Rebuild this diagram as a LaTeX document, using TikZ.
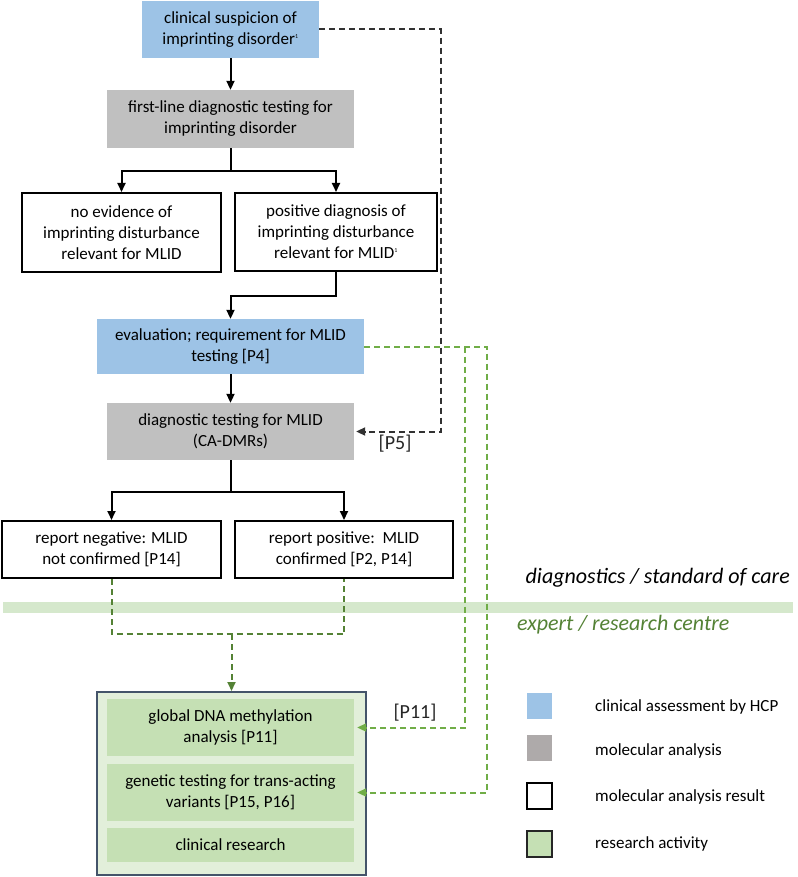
\documentclass[tikz,border=0pt]{standalone}
\usepackage{fontspec}
\setmainfont{Carlito}
\usetikzlibrary{arrows.meta}

\definecolor{hcpblue}{RGB}{157,195,230}
\definecolor{molgray}{RGB}{192,192,192}
\definecolor{leggray}{RGB}{174,170,170}
\definecolor{resgreen}{RGB}{197,224,180}
\definecolor{respale}{RGB}{226,239,218}
\definecolor{bandgreen}{RGB}{213,232,204}
\definecolor{linegreen}{RGB}{112,173,71}
\definecolor{darkgreen}{RGB}{84,130,53}
\definecolor{slateframe}{RGB}{68,84,106}
\definecolor{dashgray}{RGB}{50,50,50}

\tikzset{
  boxtext/.style={align=center, inner sep=0pt, font=\fontsize{17}{21}\selectfont},
  clinical/.style={boxtext, fill=hcpblue},
  molecular/.style={boxtext, fill=molgray},
  result/.style={boxtext, draw=black, line width=2pt, fill=white},
  activity/.style={boxtext, fill=resgreen},
  legendbox/.style={minimum width=25pt, minimum height=26pt, inner sep=0pt},
  legendtext/.style={anchor=west, inner sep=0pt, font=\fontsize{17}{21}\selectfont},
  setting/.style={inner sep=0pt, font=\fontsize{22}{26}\selectfont\itshape},
  reflabel/.style={inner sep=0pt, font=\fontsize{20}{24}\selectfont, text=black!85},
  tip/.style={-{Triangle[length=9pt,width=8pt]}},
  flow/.style={tip, line width=2pt},
  blackdash/.style={tip, line width=2pt, draw=dashgray, dash pattern=on 6pt off 4pt, shorten >=2pt},
  greendash/.style={tip, line width=2pt, draw=linegreen, dash pattern=on 6pt off 4pt, shorten >=3pt},
  darkdash/.style={line width=2pt, draw=darkgreen, dash pattern=on 6pt off 4pt}
}

\begin{document}
\begin{tikzpicture}[x=1pt,y=-1pt]
\useasboundingbox (0,0) rectangle (797,877);

% band between diagnostics and research
\fill[bandgreen] (3,602) rectangle (793,613);
\node[setting, anchor=east] (diagcare) at (790,578) {diagnostics / standard of care};
\node[setting, anchor=west, text=darkgreen] (expertcentre) at (517,625) {expert / research centre};

% diagnostic path
\node[clinical, minimum width=177pt, minimum height=57pt] (suspicion) at (230.5,29.5)
  {clinical suspicion of\\imprinting disorder\textsuperscript{\fontsize{6}{6}\selectfont 1}};
\node[molecular, minimum width=247pt, minimum height=58pt] (firstline) at (230.5,119)
  {first-line diagnostic testing for\\imprinting disorder};
\node[result, minimum width=199pt, minimum height=79pt] (noevidence) at (121.5,232.5)
  {no evidence of\\imprinting disturbance\\relevant for MLID};
\node[result, minimum width=202pt, minimum height=78pt] (positive) at (336,232)
  {positive diagnosis of\\imprinting disturbance\\relevant for MLID\textsuperscript{\fontsize{6}{6}\selectfont 1}};
\node[clinical, minimum width=267pt, minimum height=55pt] (evaluation) at (230.5,346.5)
  {evaluation; requirement for MLID\\testing [P4]};
\node[molecular, minimum width=247pt, minimum height=57pt] (mlidtest) at (230.5,431.5)
  {diagnostic testing for MLID\\(CA-DMRs)};
\node[result, minimum width=219pt, minimum height=57pt] (reportneg) at (111.5,549.5)
  {report negative: MLID\\not confirmed [P14]};
\node[result, minimum width=218pt, minimum height=57pt] (reportpos) at (344,549.5)
  {report positive:\ \ MLID\\confirmed [P2, P14]};

% research centre
\node[draw=slateframe, fill=respale, line width=2pt, minimum width=269pt, minimum height=183pt] (research) at (231.5,783.5) {};
\node[activity, minimum width=247pt, minimum height=57pt] (methylation) at (230.5,727.5)
  {global DNA methylation\\analysis [P11]};
\node[activity, minimum width=247pt, minimum height=57pt] (genetic) at (230.5,792.5)
  {genetic testing for trans-acting\\variants [P15, P16]};
\node[activity, minimum width=247pt, minimum height=34pt] (clinresearch) at (230.5,845)
  {clinical research};

% solid arrows
\coordinate (fork1) at (230.5,171);
\coordinate (fork2) at (336,296);
\coordinate (fork3) at (230.5,492);
\draw[flow] (suspicion.south) to (firstline.north);
\draw[flow] (firstline.south) to (fork1) -| (noevidence.north);
\draw[flow] (fork1) -| (positive.north);
\draw[flow] (positive.south) to (fork2) -| (evaluation.north);
\draw[flow] (evaluation.south) to (mlidtest.north);
\draw[flow] (mlidtest.south) to (fork3) -| (reportneg.north);
\draw[flow] (fork3) -| (reportpos.north);

% dashed arrows
\coordinate (railP5) at (441,29.5);
\draw[blackdash] (suspicion.east) to (railP5) |- (mlidtest.east);
\node[reflabel] (labelP5) at (395,444) {[P5]};

\coordinate (railP11) at (465,346.5);
\coordinate (railP15) at (487,346.5);
\draw[greendash] (evaluation.east) to (railP15) |- (genetic.east);
\draw[greendash] (railP11) |- (methylation.east);
\node[reflabel] (labelP11) at (415,713) {[P11]};

\coordinate (fork4) at (111.5,634);
\coordinate (fork5) at (231.5,634);
\draw[darkdash] (reportneg.south) to (fork4) -| (reportpos.south);
\draw[darkdash, tip] (fork5) to (research.north);

% legend
\node[legendbox, fill=hcpblue] (legclinical) at (539.5,706) {};
\node[legendbox, fill=leggray] (legmolecular) at (539.5,747.5) {};
\node[legendbox, draw=black, line width=2pt, fill=white] (legresult) at (539.5,796) {};
\node[legendbox, draw=black!85, line width=2pt, fill=resgreen] (legactivity) at (539.5,844) {};
\node[legendtext] (legclinicaltext) at (595,707) {clinical assessment by HCP};
\node[legendtext] (legmoleculartext) at (595,751) {molecular analysis};
\node[legendtext] (legresulttext) at (595,797) {molecular analysis result};
\node[legendtext] (legactivitytext) at (595,844) {research activity};
\end{tikzpicture}
\end{document}
